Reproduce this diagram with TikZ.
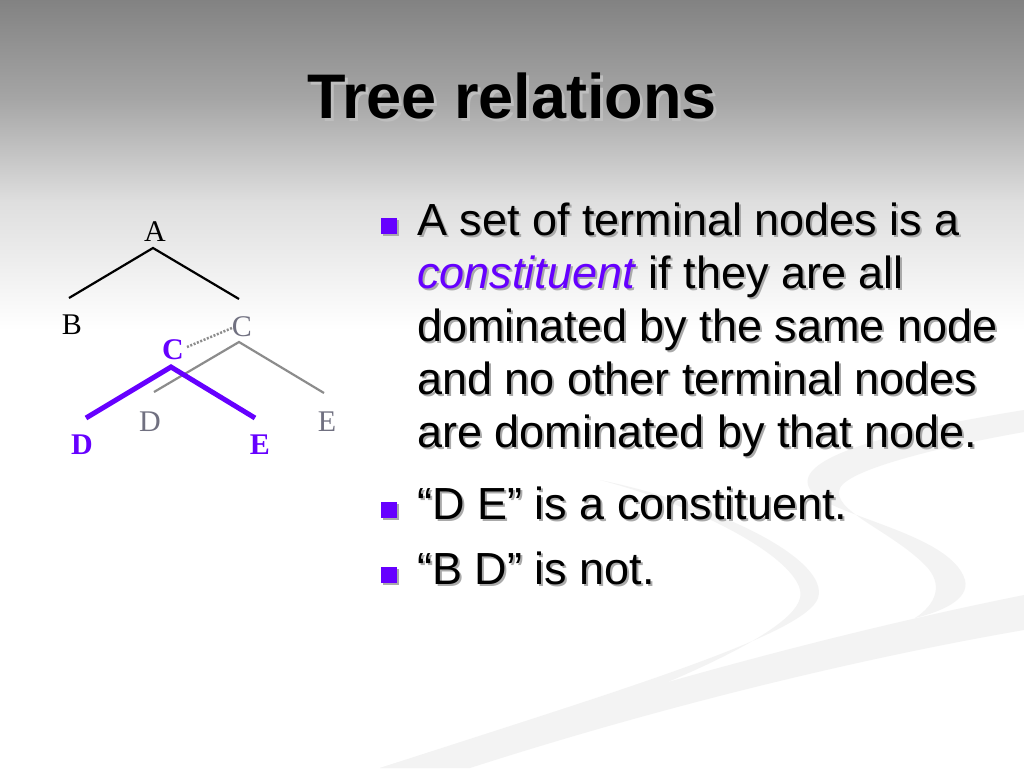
\documentclass[tikz,border=0pt]{standalone}
\usepackage{fontspec}
\setmainfont{Liberation Sans}
\newfontfamily\serifx{Liberation Serif}
\definecolor{vio}{RGB}{102,0,255}
\definecolor{tgray}{RGB}{112,112,128}
\definecolor{lgray}{RGB}{140,140,140}
\definecolor{shd}{RGB}{170,170,170}
\definecolor{tshd}{RGB}{190,190,190}
\definecolor{bgA}{RGB}{130,130,130}
\definecolor{bgB}{RGB}{166,166,166}
\definecolor{bgC}{RGB}{222,222,222}
\definecolor{swoosh}{RGB}{243,243,243}
\newcommand\hl[1]{\textcolor{vio}{\textit{#1}}}
\newcommand\shline[3]{%
  \node[body, text=shd, xshift=2pt, yshift=-2pt] (#1s) at (#2) {\let\hl\textit #3};
  \node[body] (#1) at (#2) {#3};}
\newcommand\bullsq[2]{%
  \node[bsq, fill=shd, xshift=2pt, yshift=-2pt] (#1s) at (#2) {};
  \node[bsq] (#1) at (#2) {};}
\tikzset{
  body/.style={anchor=base west, inner sep=0pt, font=\fontsize{45}{54}\selectfont},
  bsq/.style={rectangle, minimum size=16pt, inner sep=0pt, fill=vio},
  tl/.style={inner sep=0pt, font=\serifx\fontsize{30}{30}\selectfont},
  tlg/.style={tl, text=tgray},
  tlp/.style={inner sep=0pt, font=\serifx\bfseries\fontsize{30}{30}\selectfont, text=vio},
  blackline/.style={draw=black, line width=2.2pt},
  grayline/.style={draw=lgray, line width=2.2pt},
  purpline/.style={draw=vio, line width=5pt},
  dotline/.style={draw=lgray, line width=2.5pt, dash pattern=on 2pt off 1.6pt},
  swoosh/.style={fill=swoosh, draw=none}
}
\begin{document}
\begin{tikzpicture}[x=1pt,y=-1pt]
\useasboundingbox (0,0) rectangle (1024,768);
% background
\fill[white] (0,0) rectangle (1024,768);
\shade[top color=bgA, bottom color=bgB] (0,-1) rectangle (1024,101);
\shade[top color=bgB, bottom color=bgC] (0,100) rectangle (1024,201);
\shade[top color=bgC, bottom color=white] (0,200) rectangle (1024,330);
% swooshes
\path[swoosh] (1024,410) .. controls (900,430) and (800,455) .. (808,485)
  .. controls (815,515) and (950,530) .. (965,580)
  .. controls (970,600) and (940,612) .. (915,618)
  .. controls (935,605) and (945,585) .. (925,565)
  .. controls (890,530) and (830,510) .. (840,488)
  .. controls (850,468) and (950,445) .. (1024,432) -- cycle;
\path[swoosh] (600,480) .. controls (720,505) and (830,560) .. (818,598)
  .. controls (805,635) and (620,690) .. (380,768) -- (440,768)
  .. controls (620,705) and (790,640) .. (800,598)
  .. controls (808,568) and (720,512) .. (600,480) -- cycle;
\path[swoosh] (1024,595) .. controls (800,640) and (600,700) .. (380,768)
  -- (470,768) .. controls (650,710) and (850,660) .. (1024,630) -- cycle;
% title
\node[anchor=base, inner sep=0pt, text=tshd, font=\fontsize{63}{70}\selectfont\bfseries, xshift=3pt, yshift=-3pt] (titles) at (512,118) {Tree relations};
\node[anchor=base, inner sep=0pt, font=\fontsize{63}{70}\selectfont\bfseries] (title) at (512,118) {Tree relations};
% bullets
\bullsq{b1}{388.5,225.5}
\bullsq{b2}{388.5,509.5}
\bullsq{b3}{388.5,575}
% body text
\shline{l1}{417,235}{A set of terminal nodes is a}
\shline{l2}{417,288}{\hl{constituent} if they are all}
\shline{l3}{417,341}{dominated by the same node}
\shline{l4}{417,394}{and no other terminal nodes}
\shline{l5}{417,447}{are dominated by that node.}
\shline{l6}{417,519}{“D E” is a constituent.}
\shline{l7}{417,584}{“B D” is not.}
% tree
\node[tl] (A) at (155,232) {A};
\node[tl] (B) at (72,325) {B};
\node[tlg] (GC) at (242,327) {C};
\node[tlg] (GD) at (150,422) {D};
\node[tlg] (GE) at (327,422) {E};
\coordinate (Aapex) at (153,248);
\coordinate (Bend) at (69,298);
\coordinate (Cend) at (239,299);
\coordinate (Gapex) at (239,342);
\coordinate (GDend) at (154,392);
\coordinate (GEend) at (324,393);
\coordinate (Papex) at (171,367);
\coordinate (PDend) at (86,418);
\coordinate (PEend) at (255,418);
\coordinate (dotA) at (187,347);
\coordinate (dotB) at (232,328);
\draw[blackline] (Bend) -- (Aapex) -- (Cend);
\draw[grayline] (GDend) -- (Gapex) -- (GEend);
\draw[dotline] (dotA) -- (dotB);
\draw[purpline] (PDend) -- (Papex) -- (PEend);
\node[tlp] (PC) at (173,350) {C};
\node[tlp] (PD) at (82,445) {D};
\node[tlp] (PE) at (260,445) {E};
\end{tikzpicture}
\end{document}
